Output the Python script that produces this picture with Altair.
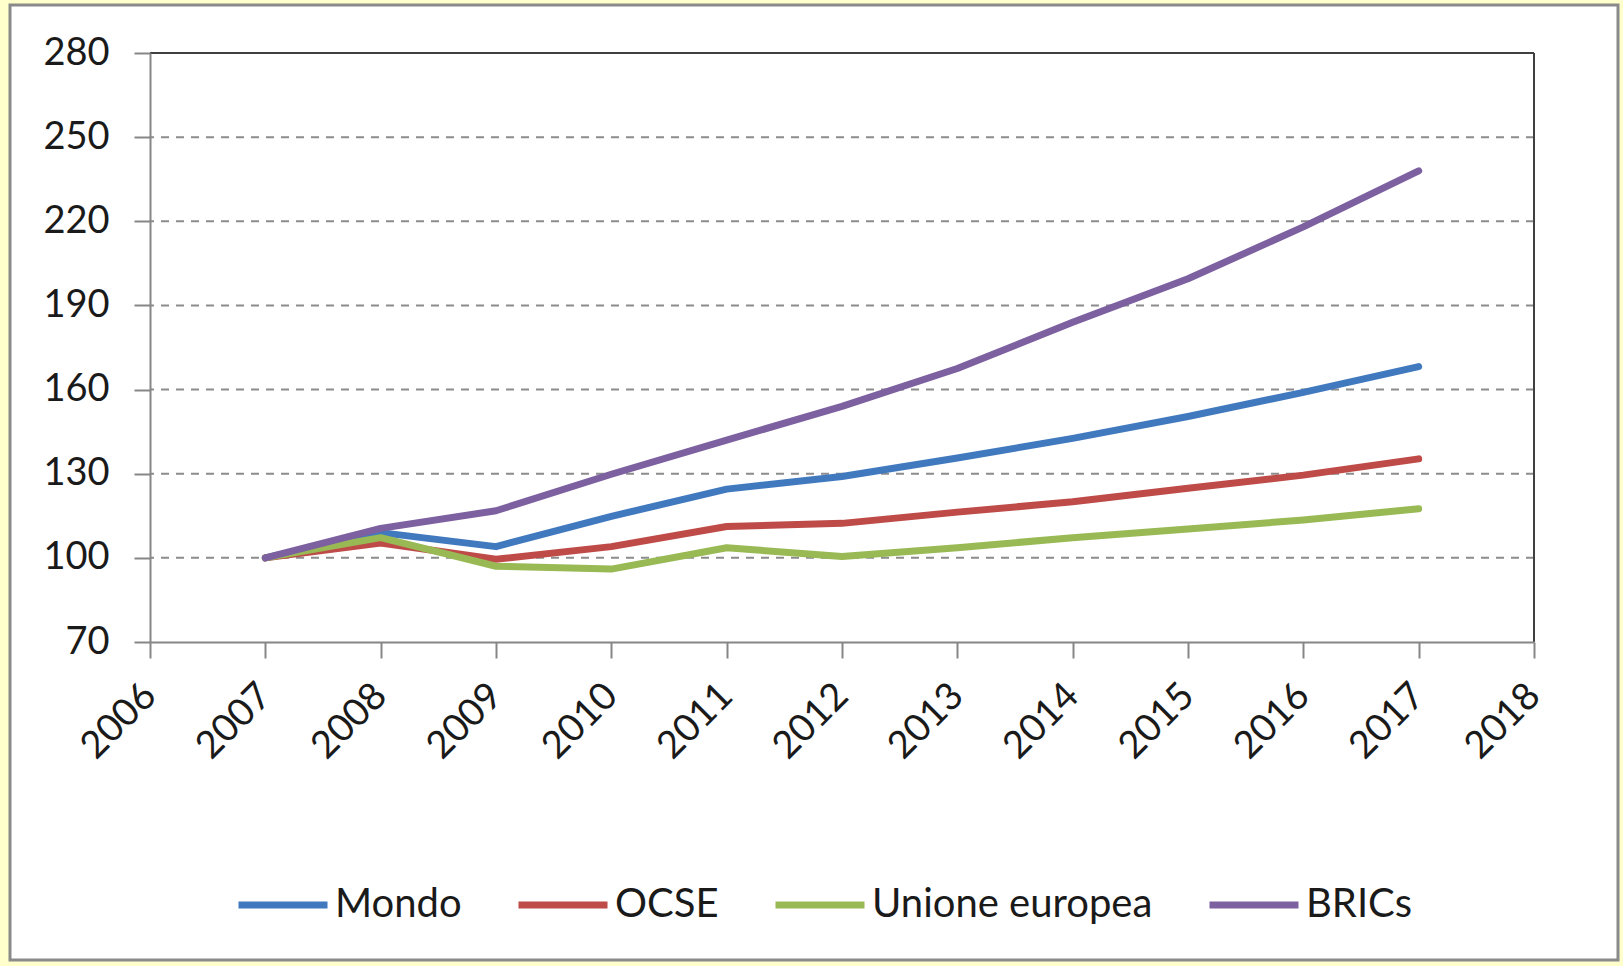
import altair as alt
import pandas as pd

# ---- data ----
years = [2007, 2008, 2009, 2010, 2011, 2012, 2013, 2014, 2015, 2016, 2017]
mondo = [100, 109.0, 104.0, 114.8, 124.5, 129.0, 135.6, 142.6, 150.4, 159.0, 168.2]
ocse = [100, 105.3, 99.5, 104.0, 111.2, 112.3, 116.3, 120.0, 124.8, 129.5, 135.3]
ue = [100, 107.2, 97.0, 96.0, 103.6, 100.5, 103.6, 107.2, 110.3, 113.5, 117.5]
brics = [100, 110.5, 116.8, 129.8, 142.0, 154.0, 167.5, 184.0, 199.5, 218.0, 238.0]

series_names = ["Mondo", "OCSE", "Unione europea", "BRICs"]
series_colors = ["#4179BF", "#BE4B48", "#98B954", "#7D60A0"]

y_ticks = [70, 100, 130, 160, 190, 220, 250, 280]
x_ticks = list(range(2006, 2019))
grid_values = [100, 130, 160, 190, 220, 250]
top_value = [280]
right_value = [2018]

rows = []
for name, vals in zip(series_names, [mondo, ocse, ue, brics]):
    for yr, v in zip(years, vals):
        rows.append({"anno": yr, "valore": v, "serie": name})
df = pd.DataFrame(rows)

W, H = 1384, 589
FONT = "Lato"
TXT = "#1a1a1a"
AX = "#868686"

xscale = alt.Scale(domain=[2006, 2018], nice=False, zero=False)
yscale = alt.Scale(domain=[70, 280], nice=False, zero=False)

x_axis = alt.Axis(
    values=x_ticks, format="d", labelAngle=-45, labelAlign="right",
    labelBaseline="middle", labelPadding=32, title=None, grid=False,
    domainColor=AX, domainWidth=2, tickColor=AX, tickWidth=2, tickSize=16,
    labelFont=FONT, labelFontSize=38, labelColor=TXT, zindex=1,
    labelOverlap=False,
)
y_axis = alt.Axis(
    values=y_ticks, title=None, grid=False, labelPadding=25,
    domainColor=AX, domainWidth=2, tickColor=AX, tickWidth=2, tickSize=16,
    labelFont=FONT, labelFontSize=38, labelColor=TXT, zindex=1,
    labelOverlap=False,
)

panel = alt.Chart(alt.Data(values=[{}])).mark_rect(
    fill="white", stroke="#8a8a8a", strokeWidth=3
).encode(
    x=alt.value(-140), x2=alt.value(1468), y=alt.value(-48), y2=alt.value(907)
)

grid = alt.Chart(pd.DataFrame({"v": grid_values})).mark_rule(
    color="#8c8c8c", strokeWidth=2, strokeDash=[8, 7]
).encode(y=alt.Y("v:Q", scale=yscale, axis=y_axis))

top = alt.Chart(pd.DataFrame({"v": top_value})).mark_rule(
    color="#404040", strokeWidth=2
).encode(y=alt.Y("v:Q", scale=yscale, axis=y_axis))

right = alt.Chart(pd.DataFrame({"v": right_value})).mark_rule(
    color="#404040", strokeWidth=2
).encode(x=alt.X("v:Q", scale=xscale, axis=x_axis))

lines = alt.Chart(df).mark_line(
    strokeWidth=7, strokeCap="round", strokeJoin="round"
).encode(
    x=alt.X("anno:Q", scale=xscale, axis=x_axis),
    y=alt.Y("valore:Q", scale=yscale, axis=y_axis),
    color=alt.Color(
        "serie:N",
        scale=alt.Scale(domain=series_names, range=series_colors),
        sort=series_names,
        legend=alt.Legend(
            orient="none", legendX=85, legendY=804, direction="horizontal",
            title=None, symbolType="stroke", symbolSize=7921, symbolStrokeWidth=7,
            labelFont=FONT, labelFontSize=40, labelColor=TXT, labelOffset=4,
            columnPadding=42, labelLimit=1000,
        ),
    ),
)

chart = alt.layer(panel, grid, top, right, lines).properties(
    width=W, height=H,
    padding={"left": 150, "top": 53, "right": 89, "bottom": 324},
    autosize=alt.AutoSizeParams(type="none"),
    background="#FFFFCC",
).configure_view(stroke=None)

chart.save("out.html", embed_options={"renderer": "svg", "actions": False})
